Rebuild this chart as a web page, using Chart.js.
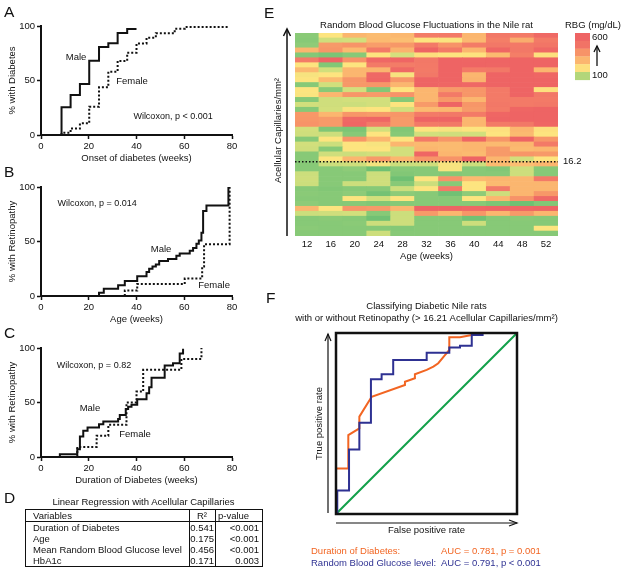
<!DOCTYPE html>
<html>
<head>
<meta charset="utf-8">
<script src="https://cdn.jsdelivr.net/npm/chart.js@4.4.1/dist/chart.umd.min.js"></script>
<style>
  body { margin: 0; background: #fff; }
  #fig { position: relative; width: 625px; height: 572px; overflow: hidden; background: #fff;
         font-family: "Liberation Sans", Arial, sans-serif; color: #111; }
  canvas { position: absolute; }
  .letter { position: absolute; font-size: 15.5px; line-height: 15px; }
  #regTitle { position: absolute; left: 25px; width: 237px; top: 496px; text-align: center; font-size: 9.5px; line-height: 11px; }
  #reg { position: absolute; left: 25px; top: 509px; width: 237px; border-collapse: collapse; table-layout: fixed;
         border: 1px solid #111; font-size: 9.5px; }
  #reg th, #reg td { padding: 0; height: 11px; line-height: 11px; font-weight: normal; white-space: nowrap; overflow: hidden; }
  #reg th { border-bottom: 1px solid #111; }
  #reg .v { text-align: left; padding-left: 7px; }
  #reg .r { text-align: right; padding-right: 1px; border-left: 1px solid #111; }
  #reg .p { text-align: right; padding-right: 3px; border-left: 1px solid #111; }
  #reg th.r { text-align: center; }
  #reg th.p { text-align: left; padding-left: 2px; }
</style>
</head>
<body>
<div id="fig">
  <canvas id="chartA" width="250" height="165" style="left:0;top:0"></canvas>
  <canvas id="chartB" width="250" height="165" style="left:0;top:161px"></canvas>
  <canvas id="chartC" width="250" height="165" style="left:0;top:322px"></canvas>
  <canvas id="chartE" width="365" height="265" style="left:260px;top:0"></canvas>
  <canvas id="chartF" width="365" height="287" style="left:260px;top:285px"></canvas>

  <div class="letter" style="left:4px;top:4px">A</div>
  <div class="letter" style="left:4px;top:164px">B</div>
  <div class="letter" style="left:4px;top:325px">C</div>
  <div class="letter" style="left:4px;top:490px">D</div>
  <div class="letter" style="left:264px;top:5px">E</div>
  <div class="letter" style="left:266px;top:290px">F</div>

  <div id="regTitle">Linear Regression with Acellular Capillaries</div>
  <table id="reg">
    <colgroup><col style="width:164px"><col style="width:26px"><col style="width:47px"></colgroup>
    <thead><tr><th class="v">Variables</th><th class="r">R²</th><th class="p">p-value</th></tr></thead>
    <tbody id="regBody"></tbody>
  </table>
</div>
<script>
// A: onset of diabetes
const onsetMaleWeeks = [8.6, 8.6, 12.4, 16.3, 20.2, 24.3, 28.2, 32.1, 36.1, 40];
const onsetMalePct = [0, 25.4, 36.7, 46.8, 68.2, 80.7, 84.1, 93.6, 97.2, 97.2];
const onsetFemaleWeeks = [8.6, 8.6, 12.4, 16.3, 20.2, 24.3, 28.2, 32.1, 36.1, 40, 44.2, 48.1, 56, 60.2, 79];
const onsetFemalePct = [0, 2, 6, 10.7, 26, 43.7, 58, 68, 75.5, 84, 89.3, 93.3, 97.5, 99, 99];

// B: retinopathy by age
const ageMaleWeeks = [24.3, 24.3, 26.3, 32.3, 35.1, 40.3, 44.2, 45.3, 46.7, 48.1, 49.5, 53.2, 56.7, 58.1, 62.3, 63.7, 65.1, 66.1, 67.2, 67.9, 69.3, 78.5];
const ageMalePct = [0, 3, 6.7, 9.8, 13.8, 18.1, 22, 25, 27, 29, 32, 34, 37, 39, 41.5, 44, 48, 51, 58, 78, 83, 100];
const ageFemaleWeeks = [35.1, 35.1, 40.3, 60.2, 67.5, 68.3, 79];
const ageFemalePct = [0, 5, 11, 16, 27, 47.5, 100];

// C: retinopathy by duration of diabetes
const durMaleWeeks = [7.9, 7.9, 15.2, 16.3, 17.7, 19.5, 24.3, 26.1, 32.3, 33, 35.5, 36.5, 37.9, 40.3, 44.2, 45.3, 46.3, 51.8, 55.3, 58.1, 59.5];
const durMalePct = [0, 2.5, 7, 18.8, 24, 27, 30, 32.6, 34.8, 38.5, 44, 46, 48, 53, 58.5, 64, 72.6, 84, 86, 95, 99.4];
const durFemaleWeeks = [15.2, 15.2, 23.3, 28.2, 35.8, 40, 42.8, 58.8, 67.2];
const durFemalePct = [0, 9.2, 19.4, 29.5, 50, 60, 80, 90, 100];

// D: regression table
const regVariables = ['Duration of Diabetes', 'Age', 'Mean Random Blood Glucose level', 'HbA1c'];
const regR2 = ['0.541', '0.175', '0.456', '0.171'];
const regP = ['<0.001', '<0.001', '<0.001', '0.003'];

// E: random blood glucose (mg/dL), rows top (most capillaries) to bottom
const ageWeeks = ['12', '16', '20', '24', '28', '32', '36', '40', '44', '48', '52'];
const rbgRows = [
  [82, 190, 300, 285, 295, 465, 475, 300, 480, 470, 540],
  [80, 115, 120, 290, 280, 190, 185, 295, 460, 330, 470],
  [85, 380, 395, 370, 385, 470, 400, 465, 480, 475, 490],
  [300, 390, 290, 470, 310, 560, 470, 300, 550, 480, 545],
  [78, 72, 80, 190, 125, 205, 190, 195, 290, 460, 200],
  [465, 560, 400, 545, 550, 480, 560, 555, 570, 560, 565],
  [190, 76, 190, 470, 465, 475, 560, 565, 555, 570, 560],
  [290, 118, 300, 305, 540, 470, 560, 470, 480, 565, 300],
  [180, 190, 300, 545, 180, 480, 560, 300, 560, 575, 550],
  [190, 290, 390, 550, 385, 560, 570, 310, 560, 580, 560],
  [80, 118, 385, 390, 300, 560, 550, 545, 570, 580, 570],
  [190, 80, 120, 76, 190, 300, 380, 390, 470, 560, 200],
  [185, 300, 390, 380, 400, 300, 470, 390, 470, 560, 480],
  [80, 115, 120, 120, 80, 300, 385, 300, 470, 470, 470],
  [120, 115, 110, 120, 190, 380, 560, 390, 480, 470, 480],
  [80, 120, 180, 190, 120, 290, 300, 380, 470, 550, 560],
  [385, 300, 390, 380, 390, 470, 480, 470, 550, 560, 560],
  [390, 380, 540, 550, 380, 560, 560, 300, 560, 570, 570],
  [400, 380, 550, 470, 380, 470, 480, 300, 470, 480, 550],
  [120, 75, 72, 120, 76, 190, 180, 190, 200, 300, 200],
  [115, 110, 80, 190, 80, 120, 115, 120, 190, 290, 190],
  [80, 190, 390, 300, 190, 470, 390, 550, 390, 560, 390],
  [120, 110, 190, 180, 300, 290, 290, 300, 290, 300, 470],
  [115, 80, 190, 190, 120, 300, 290, 300, 380, 290, 300],
  [80, 115, 110, 120, 120, 550, 300, 290, 380, 390, 380],
  [80, 190, 300, 380, 300, 390, 400, 560, 300, 120, 190],
  [80, 110, 115, 170, 110, 115, 180, 110, 290, 280, 300],
  [80, 80, 85, 62, 80, 80, 180, 80, 76, 110, 80],
  [110, 80, 80, 110, 76, 80, 78, 80, 80, 112, 80],
  [115, 80, 80, 115, 62, 190, 400, 290, 300, 300, 470],
  [110, 80, 110, 115, 80, 110, 80, 190, 290, 300, 300],
  [80, 76, 80, 80, 110, 190, 470, 190, 470, 300, 300],
  [82, 80, 85, 66, 85, 80, 64, 85, 112, 300, 385],
  [80, 80, 190, 120, 190, 80, 80, 190, 300, 400, 540],
  [85, 80, 80, 76, 80, 80, 80, 80, 72, 62, 76],
  [300, 190, 390, 380, 300, 560, 560, 550, 560, 550, 560],
  [110, 115, 120, 80, 110, 380, 300, 390, 300, 380, 300],
  [80, 82, 80, 64, 112, 80, 80, 64, 80, 82, 80],
  [80, 80, 82, 112, 112, 80, 80, 112, 80, 80, 80],
  [82, 80, 80, 80, 78, 80, 80, 80, 80, 80, 190],
  [80, 80, 80, 112, 80, 80, 80, 80, 80, 80, 80],
];
const thresholdRank = 15; // rows below the 16.2 acellular capillaries/mm² cut
const rbgLegendLevels = [600, 500, 400, 300, 200, 100];

// F: ROC curves
const rocDurFpr = [0, 0, 0.068, 0.068, 0.129, 0.129, 0.197, 0.381, 0.381, 0.436, 0.436, 0.501, 0.538, 0.565, 0.602, 0.626, 0.626, 0.685, 0.75, 0.796, 1];
const rocDurTpr = [0, 0.252, 0.252, 0.436, 0.473, 0.538, 0.648, 0.713, 0.731, 0.75, 0.772, 0.796, 0.814, 0.833, 0.878, 0.906, 0.976, 0.976, 0.989, 1, 1];
const rocRbgFpr = [0.007, 0.072, 0.129, 0.193, 0.252, 0.316, 0.501, 0.626, 0.685, 0.75, 0.81, 1];
const rocRbgTpr = [0, 0.13, 0.357, 0.504, 0.744, 0.772, 0.851, 0.891, 0.92, 0.93, 0.989, 1];
const rocChance = [0, 1];

const FONT = "'Liberation Sans', Arial, sans-serif";
const INK = '#111';
const ORANGE = '#f26522';
const BLUE = '#2e3192';
const GREEN = '#12a04a';

Chart.defaults.font.family = FONT;
Chart.defaults.font.size = 9.5;
Chart.defaults.color = INK;
Chart.defaults.animation = false;

const pts = (xs, ys) => xs.map((x, i) => ({ x, y: ys[i] }));

function notes(items) {
  return {
    id: 'notes',
    afterDatasetsDraw(chart) {
      const { ctx, scales: { x, y } } = chart;
      ctx.save();
      ctx.fillStyle = INK;
      ctx.textBaseline = 'middle';
      for (const n of items) {
        ctx.font = (n.size || 9.5) + 'px ' + FONT;
        ctx.textAlign = n.align || 'center';
        ctx.fillText(n.text, x.getPixelForValue(n.x), y.getPixelForValue(n.y));
      }
      ctx.restore();
    }
  };
}

function kmChart(id, male, female, xTitle, yTitle, items) {
  const grid = { drawOnChartArea: false, tickLength: 4, tickColor: INK, tickWidth: 1.5 };
  const border = { color: INK, width: 2 };
  return new Chart(document.getElementById(id), {
    type: 'line',
    data: {
      datasets: [
        { label: 'Male', data: male, borderColor: INK, borderWidth: 2, stepped: 'before', pointRadius: 0, borderJoinStyle: 'miter' },
        { label: 'Female', data: female, borderColor: INK, borderWidth: 2, borderDash: [2, 2], stepped: 'before', pointRadius: 0, borderJoinStyle: 'miter' },
      ],
    },
    options: {
      responsive: false,
      layout: { padding: { left: 0, right: 18, top: 26, bottom: 0 } },
      plugins: { legend: { display: false }, tooltip: { enabled: false } },
      scales: {
        x: {
          type: 'linear', min: 0, max: 80,
          ticks: { stepSize: 20, padding: 2 }, grid, border,
          title: { display: true, text: xTitle, padding: { top: 0, bottom: 1 } },
          afterFit: (s) => { s.height = 30; }
        },
        y: {
          min: 0, max: 100,
          ticks: { stepSize: 50, padding: 2 }, grid, border,
          title: { display: true, text: yTitle, padding: { top: 7, bottom: 0 } },
          afterFit: (s) => { s.width = 41; }
        },
      },
    },
    plugins: [notes(items)],
  });
}

kmChart('chartA', pts(onsetMaleWeeks, onsetMalePct), pts(onsetFemaleWeeks, onsetFemalePct),
  'Onset of diabetes (weeks)', '% with Diabetes', [
    { x: 14.7, y: 71.6, text: 'Male' },
    { x: 38.1, y: 49.5, text: 'Female' },
    { x: 55.3, y: 16.5, text: 'Wilcoxon, p < 0.001', size: 9 },
  ]);

kmChart('chartB', pts(ageMaleWeeks, ageMalePct), pts(ageFemaleWeeks, ageFemalePct),
  'Age (weeks)', '% with Retinopathy', [
    { x: 50.3, y: 43, text: 'Male' },
    { x: 72.5, y: 10, text: 'Female' },
    { x: 23.5, y: 85, text: 'Wilcoxon, p = 0.014', size: 9 },
  ]);

kmChart('chartC', pts(durMaleWeeks, durMalePct), pts(durFemaleWeeks, durFemalePct),
  'Duration of Diabetes (weeks)', '% with Retinopathy', [
    { x: 20.5, y: 45, text: 'Male' },
    { x: 39.4, y: 21, text: 'Female' },
    { x: 22.2, y: 84, text: 'Wilcoxon, p = 0.82', size: 9 },
  ]);

// table D
const body = document.getElementById('regBody');
regVariables.forEach((v, i) => {
  const tr = document.createElement('tr');
  tr.innerHTML = `<td class="v">${v}</td><td class="r">${regR2[i]}</td><td class="p">${regP[i].replace('<', '&lt;')}</td>`;
  body.appendChild(tr);
});

// heat map colours
const rbgStops = [
  [60, [108, 191, 115]], [85, [142, 203, 120]], [110, [204, 222, 124]], [190, [253, 228, 127]],
  [290, [251, 186, 112]], [390, [247, 150, 104]], [470, [243, 122, 103]], [560, [238, 100, 100]],
];
function rbgColor(v) {
  if (v <= rbgStops[0][0]) return `rgb(${rbgStops[0][1]})`;
  for (let i = 1; i < rbgStops.length; i++) {
    const [v1, c1] = rbgStops[i];
    if (v <= v1) {
      const [v0, c0] = rbgStops[i - 1];
      const t = (v - v0) / (v1 - v0);
      return `rgb(${c0.map((c, k) => Math.round(c + (c1[k] - c) * t)).join(',')})`;
    }
  }
  return `rgb(${rbgStops[rbgStops.length - 1][1]})`;
}

const heatDecor = {
  id: 'heatDecor',
  afterDraw(chart) {
    const { ctx, chartArea: a, scales: { y } } = chart;
    ctx.save();
    ctx.fillStyle = INK;
    ctx.strokeStyle = INK;
    ctx.font = '9.5px ' + FONT;
    ctx.textBaseline = 'middle';
    ctx.textAlign = 'center';
    ctx.fillText('Random Blood Glucose Fluctuations in the Nile rat', (a.left + a.right) / 2, a.top - 8);

    // y axis arrow + label
    const ax = a.left - 8;
    ctx.lineWidth = 1.5;
    ctx.beginPath(); ctx.moveTo(ax, a.bottom); ctx.lineTo(ax, a.top - 4); ctx.stroke();
    ctx.beginPath(); ctx.moveTo(ax - 3.5, a.top + 3); ctx.lineTo(ax, a.top - 4); ctx.lineTo(ax + 3.5, a.top + 3); ctx.stroke();
    ctx.save();
    ctx.translate(a.left - 17, (a.top + a.bottom) / 2 - 4);
    ctx.rotate(-Math.PI / 2);
    ctx.fillText('Acellular Capillaries/mm²', 0, 0);
    ctx.restore();

    // threshold
    const ty = y.getPixelForValue(thresholdRank);
    ctx.setLineDash([1.5, 2]);
    ctx.beginPath(); ctx.moveTo(a.left, ty); ctx.lineTo(a.right, ty); ctx.stroke();
    ctx.setLineDash([]);
    ctx.textAlign = 'left';
    ctx.fillText('16.2', a.right + 5, ty);

    // colour legend
    const lx = a.right + 17, sh = 7.8;
    rbgLegendLevels.forEach((lv, i) => {
      ctx.fillStyle = rbgColor(lv);
      ctx.fillRect(lx, a.top + i * sh, 15, sh + 0.3);
    });
    ctx.fillStyle = INK;
    ctx.fillText('RBG (mg/dL)', a.right + 7, a.top - 8);
    ctx.fillText(String(rbgLegendLevels[0]), a.right + 34, a.top + 4);
    ctx.fillText(String(rbgLegendLevels[rbgLegendLevels.length - 1]), a.right + 34, a.top + 42);
    const arx = a.right + 39;
    ctx.lineWidth = 1.3;
    ctx.beginPath(); ctx.moveTo(arx, a.top + 33); ctx.lineTo(arx, a.top + 13); ctx.stroke();
    ctx.beginPath(); ctx.moveTo(arx - 3, a.top + 19); ctx.lineTo(arx, a.top + 13); ctx.lineTo(arx + 3, a.top + 19); ctx.stroke();
    ctx.restore();
  }
};

new Chart(document.getElementById('chartE'), {
  type: 'bar',
  data: {
    labels: ageWeeks,
    datasets: rbgRows.slice().reverse().map((row) => ({
      data: row.map(() => 1),
      backgroundColor: row.map(rbgColor),
      borderWidth: 0,
      barPercentage: 1,
      categoryPercentage: 1,
    })),
  },
  options: {
    responsive: false,
    layout: { padding: { left: 35, right: 67, top: 33, bottom: 0 } },
    plugins: { legend: { display: false }, tooltip: { enabled: false } },
    scales: {
      x: {
        stacked: true,
        grid: { display: false, drawTicks: false },
        border: { display: false },
        ticks: { padding: 3 },
        title: { display: true, text: 'Age (weeks)', padding: { top: 0, bottom: 3 } },
        afterFit: (s) => { s.height = 29; }
      },
      y: { stacked: true, display: false, min: 0, max: rbgRows.length },
    },
  },
  plugins: [heatDecor],
});

const rocDecor = {
  id: 'rocDecor',
  afterDraw(chart) {
    const { ctx, chartArea: a } = chart;
    const mid = (a.left + a.right) / 2;
    ctx.save();
    ctx.strokeStyle = INK;
    ctx.lineWidth = 2.5;
    ctx.strokeRect(a.left, a.top, a.right - a.left, a.bottom - a.top);

    ctx.lineWidth = 1.2;
    const ax = a.left - 8;
    ctx.beginPath(); ctx.moveTo(ax, a.bottom - 1); ctx.lineTo(ax, a.top + 1); ctx.stroke();
    ctx.beginPath(); ctx.moveTo(ax - 3, a.top + 8); ctx.lineTo(ax, a.top + 1); ctx.lineTo(ax + 3, a.top + 8); ctx.stroke();
    const ay = a.bottom + 9;
    ctx.beginPath(); ctx.moveTo(a.left, ay); ctx.lineTo(a.right, ay); ctx.stroke();
    ctx.beginPath(); ctx.moveTo(a.right - 8, ay - 3); ctx.lineTo(a.right, ay); ctx.lineTo(a.right - 8, ay + 3); ctx.stroke();

    ctx.fillStyle = INK;
    ctx.font = '9.5px ' + FONT;
    ctx.textBaseline = 'middle';
    ctx.textAlign = 'center';
    ctx.fillText('Classifying Diabetic Nile rats', mid, a.top - 27);
    ctx.fillText('with or without Retinopathy (> 16.21 Acellular Capillaries/mm²)', mid, a.top - 15);
    ctx.fillText('False positive rate', mid, a.bottom + 16);
    ctx.save();
    ctx.translate(a.left - 17, (a.top + a.bottom) / 2);
    ctx.rotate(-Math.PI / 2);
    ctx.fillText('True positive rate', 0, 0);
    ctx.restore();

    ctx.textAlign = 'left';
    ctx.fillStyle = ORANGE;
    ctx.fillText('Duration of Diabetes:', a.left - 25, a.bottom + 37);
    ctx.fillText('AUC = 0.781, p = 0.001', a.left + 105, a.bottom + 37);
    ctx.fillStyle = BLUE;
    ctx.fillText('Random Blood Glucose level:', a.left - 25, a.bottom + 49);
    ctx.fillText('AUC = 0.791, p < 0.001', a.left + 105, a.bottom + 49);
    ctx.restore();
  }
};

new Chart(document.getElementById('chartF'), {
  type: 'line',
  data: {
    datasets: [
      { label: 'Random Blood Glucose level', data: pts(rocRbgFpr, rocRbgTpr), borderColor: BLUE, borderWidth: 2, stepped: 'after', pointRadius: 0, borderJoinStyle: 'miter' },
      { label: 'Duration of Diabetes', data: pts(rocDurFpr, rocDurTpr), borderColor: ORANGE, borderWidth: 2, pointRadius: 0, tension: 0 },
      { label: 'Chance', data: pts(rocChance, rocChance), borderColor: GREEN, borderWidth: 2, pointRadius: 0 },
    ],
  },
  options: {
    responsive: false,
    layout: { padding: { left: 76, right: 108, top: 48, bottom: 58 } },
    plugins: { legend: { display: false }, tooltip: { enabled: false } },
    scales: {
      x: { type: 'linear', min: 0, max: 1, display: false },
      y: { type: 'linear', min: 0, max: 1, display: false },
    },
  },
  plugins: [rocDecor],
});
</script>
</body>
</html>
